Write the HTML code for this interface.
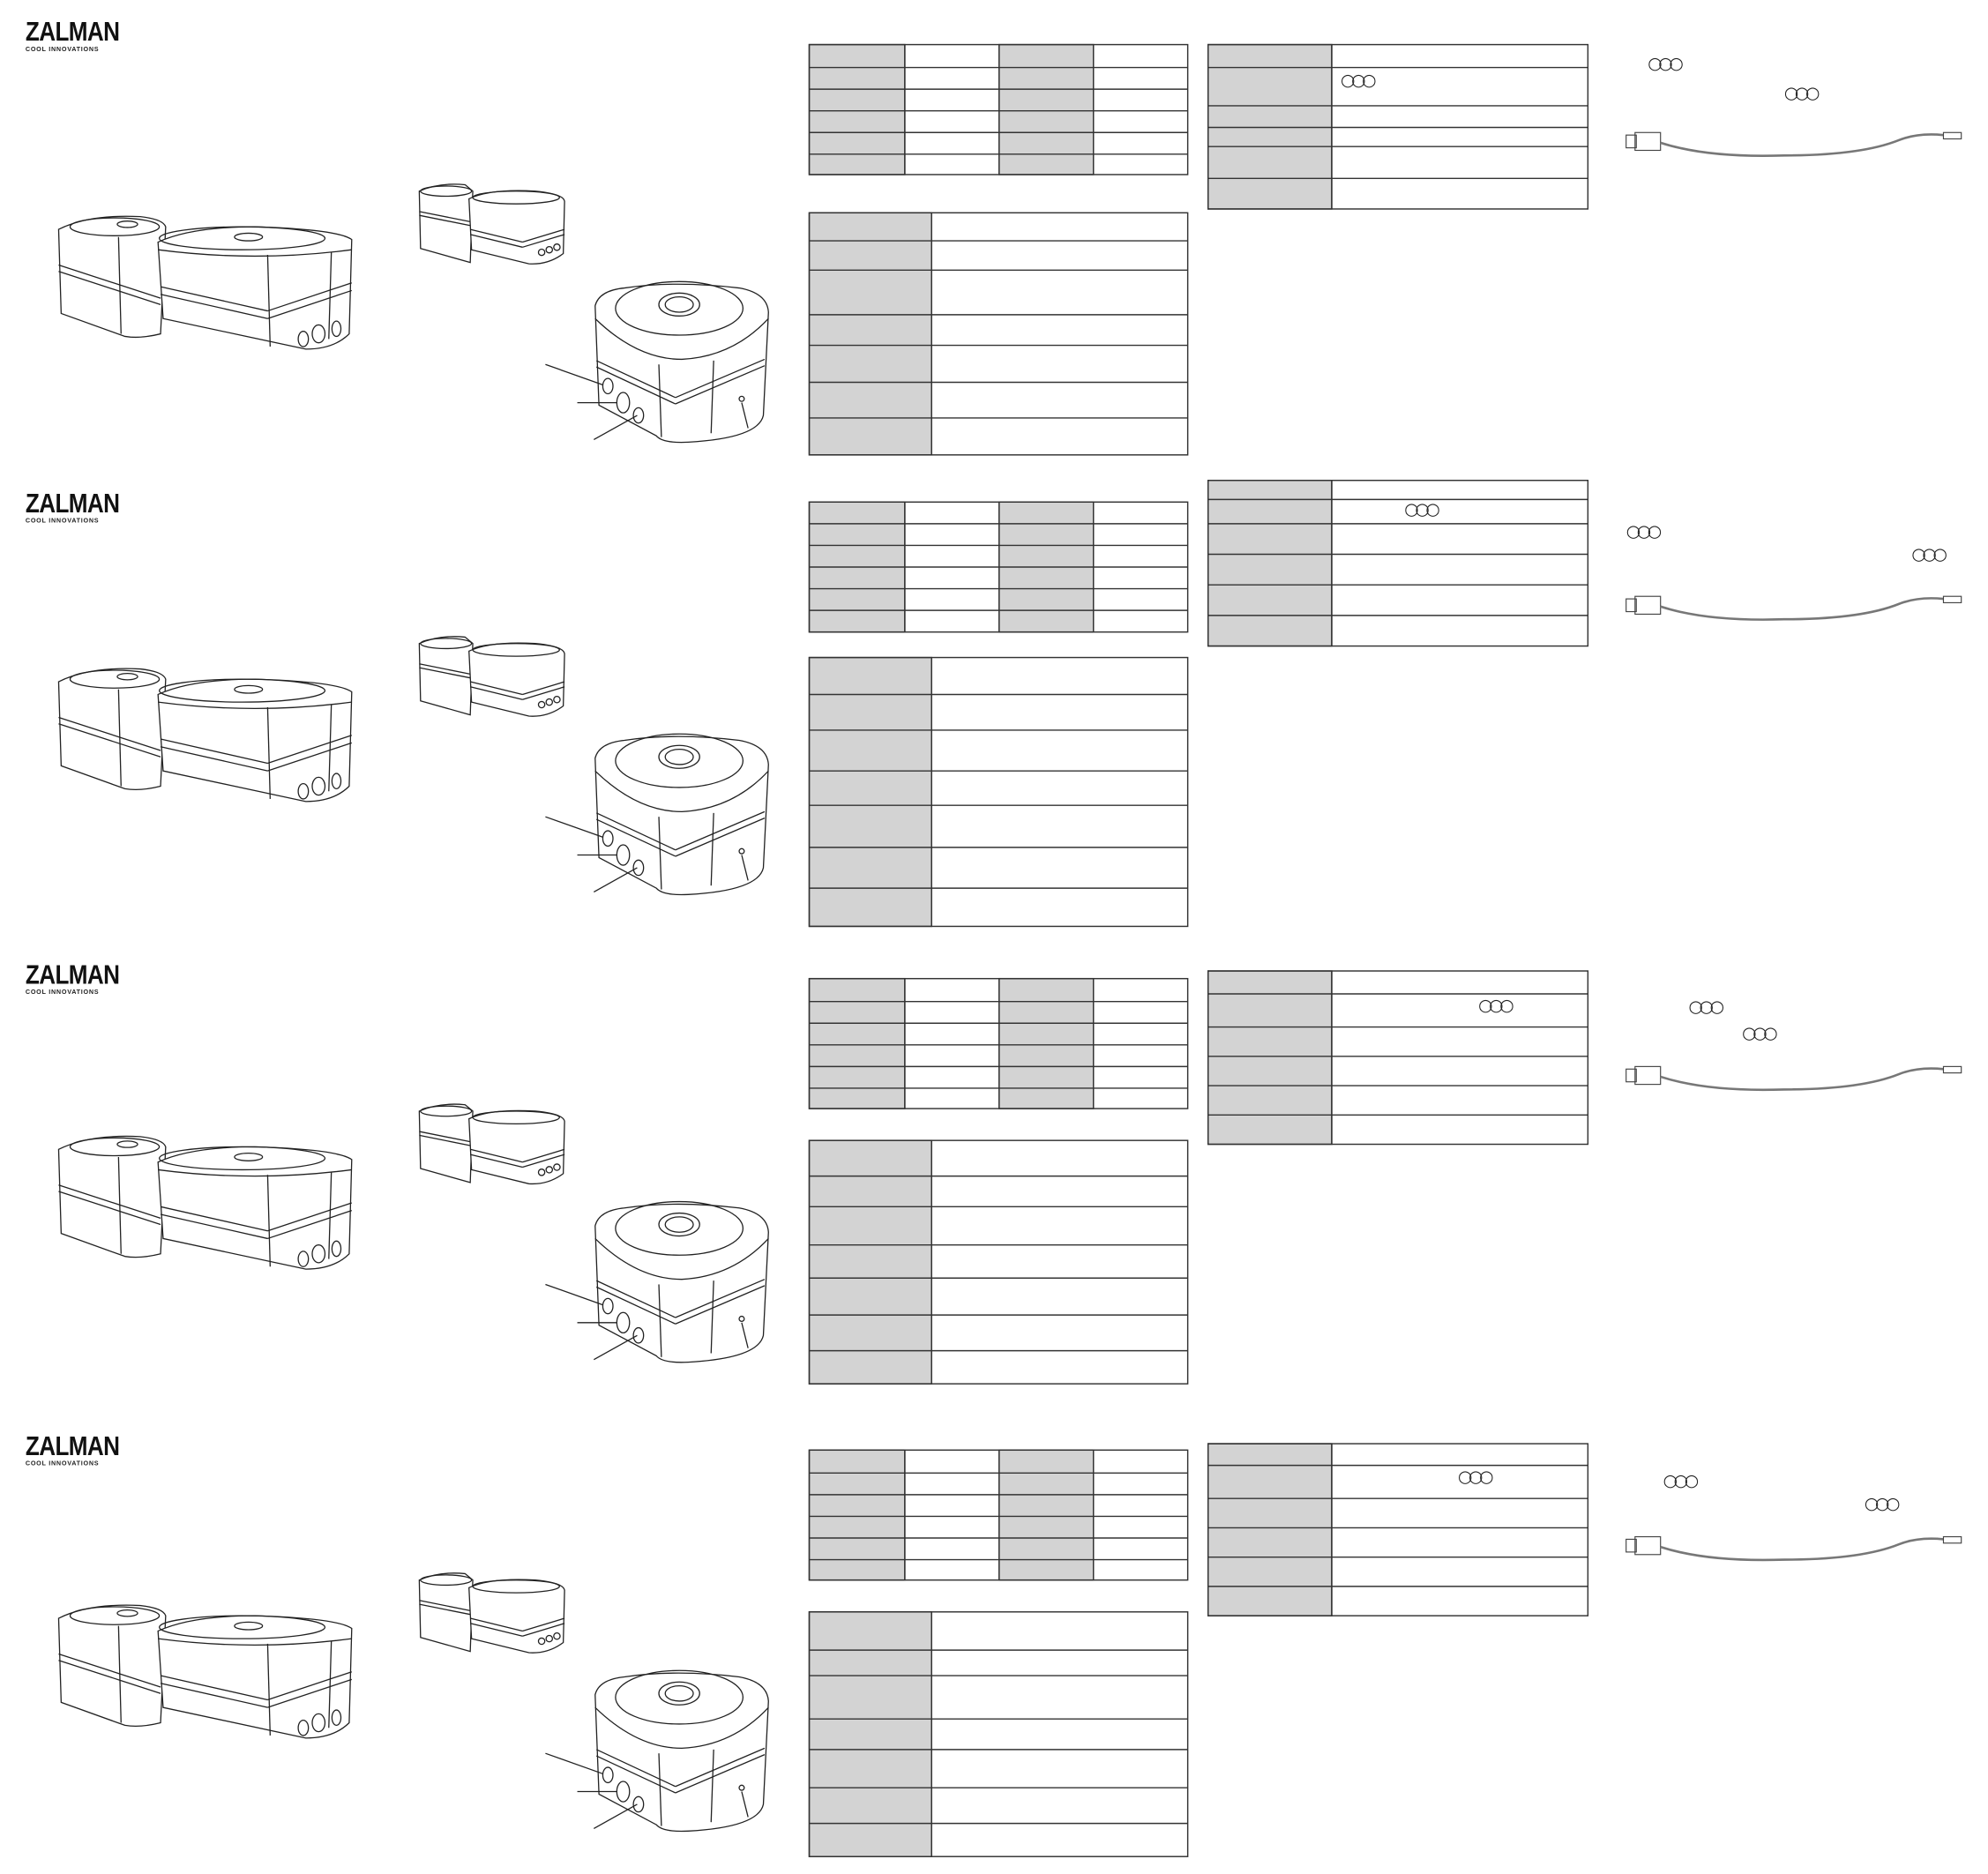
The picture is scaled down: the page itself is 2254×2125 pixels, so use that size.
<!DOCTYPE html>
<html><head><meta charset="utf-8"><style>
html,body{margin:0;padding:0;background:#fff;}
#wrap{width:2254px;height:2125px;overflow:hidden;position:relative;}
#s{position:absolute;left:0;top:0;width:1560px;height:1471px;transform:scale(1.4449);transform-origin:0 0;}
.logo{position:absolute;left:20px;font-family:"Liberation Sans",sans-serif;}
.logo b{display:block;font-size:21px;font-weight:900;line-height:18px;color:#111;transform:scaleX(0.86);transform-origin:0 0;letter-spacing:-0.5px;}
.logo i{display:block;font-style:normal;font-size:5px;font-weight:bold;letter-spacing:0.5px;color:#222;margin-top:1px;}
.c{position:absolute;font-family:"DejaVu Sans",sans-serif;font-size:13px;letter-spacing:-3px;color:#222;line-height:13px;}
</style></head><body><div id="wrap"><div id="s">
<svg width="1560" height="1471" viewBox="0 0 1560 1471" style="position:absolute;left:0;top:0">
<defs>
<g id="spk" fill="none" stroke="#222" stroke-width="0.9">
 <path d="M46,180 Q70,168 110,170 Q128,172 130,178 L126,262 Q110,266 98,264 L48,246 Z" fill="#fff"/>
 <ellipse cx="90" cy="178" rx="35" ry="7"/>
 <ellipse cx="100" cy="176" rx="8" ry="2.5"/>
 <line x1="46" y1="208" x2="126" y2="234"/><line x1="46" y1="213" x2="126" y2="239"/>
 <line x1="93" y1="186" x2="95" y2="262"/>
 <path d="M124,190 Q150,178 200,178 Q265,180 276,188 L274,262 Q262,274 240,274 L128,250 Z" fill="#fff"/>
 <ellipse cx="190" cy="187" rx="65" ry="9"/>
 <ellipse cx="195" cy="186" rx="11" ry="3"/>
 <path d="M124,196 Q200,206 276,196"/>
 <line x1="126" y1="225" x2="210" y2="244"/><line x1="126" y1="231" x2="210" y2="250"/>
 <line x1="210" y1="244" x2="276" y2="222"/><line x1="210" y1="250" x2="276" y2="228"/>
 <line x1="210" y1="200" x2="212" y2="272"/><line x1="260" y1="198" x2="258" y2="266"/>
 <ellipse cx="238" cy="266" rx="4" ry="6"/><ellipse cx="250" cy="262" rx="5" ry="7"/><ellipse cx="264" cy="258" rx="3.5" ry="6"/>
 <path d="M329,150 Q345,143 365,145 L371,150 L369,206 L330,195 Z" fill="#fff"/>
 <ellipse cx="350" cy="150" rx="20" ry="4"/>
 <line x1="329" y1="166" x2="369" y2="174"/><line x1="329" y1="169" x2="369" y2="177"/>
 <path d="M368,156 Q385,148 420,150 Q442,152 443,158 L442,199 Q430,208 415,207 L370,196 Z" fill="#fff"/>
 <ellipse cx="405" cy="155" rx="34" ry="5"/>
 <line x1="369" y1="180" x2="410" y2="190"/><line x1="369" y1="184" x2="410" y2="194"/>
 <line x1="410" y1="190" x2="443" y2="180"/><line x1="410" y1="194" x2="443" y2="184"/>
 <circle cx="425" cy="198" r="2.5"/><circle cx="431" cy="196" r="2.5"/><circle cx="437" cy="194" r="2.5"/>
 <path d="M467,240 Q470,228 490,226 Q530,220 580,226 Q602,230 603,245 L599,326 Q595,344 540,347 Q520,348 515,342 L470,318 Z" fill="#fff"/>
 <ellipse cx="533" cy="242" rx="50" ry="21"/>
 <ellipse cx="533" cy="239" rx="16" ry="9"/><ellipse cx="533" cy="239" rx="11" ry="6"/>
 <path d="M467,250 Q500,282 535,282 Q575,280 603,250"/>
 <line x1="468" y1="283" x2="530" y2="312"/><line x1="468" y1="288" x2="530" y2="317"/>
 <line x1="530" y1="312" x2="600" y2="282"/><line x1="530" y1="317" x2="600" y2="287"/>
 <line x1="517" y1="286" x2="519" y2="343"/><line x1="560" y1="283" x2="558" y2="340"/>
 <ellipse cx="477" cy="303" rx="4" ry="6"/><ellipse cx="489" cy="316" rx="5" ry="8"/><ellipse cx="501" cy="326" rx="4" ry="6"/>
 <circle cx="582" cy="313" r="2"/>
 <line x1="428" y1="286" x2="473" y2="302"/><line x1="453" y1="316" x2="484" y2="316"/>
 <line x1="466" y1="345" x2="500" y2="326"/><line x1="587" y1="336" x2="582" y2="316"/>
</g>
<g id="cable" fill="none" stroke="#444">
 <rect x="1276" y="106" width="8" height="10" stroke-width="0.8"/>
 <rect x="1283" y="104" width="20" height="14" stroke-width="0.8"/>
 <path d="M1303,112 Q1340,124 1400,122 Q1460,122 1490,110 Q1505,104 1525,106" stroke-width="1.8" stroke="#777"/>
 <rect x="1525" y="104" width="14" height="5" stroke-width="0.8"/>
</g>
</defs>
<use href="#spk"/>
<use href="#spk" y="355"/>
<use href="#spk" y="722"/>
<use href="#spk" y="1090"/>
<use href="#cable"/>
<use href="#cable" y="364"/>
<use href="#cable" y="733"/>
<use href="#cable" y="1102"/>
</svg>
<div class="logo" style="top:17px"><b>ZALMAN</b><i>COOL INNOVATIONS</i></div>
<div class="logo" style="top:387px"><b>ZALMAN</b><i>COOL INNOVATIONS</i></div>
<div class="logo" style="top:757px"><b>ZALMAN</b><i>COOL INNOVATIONS</i></div>
<div class="logo" style="top:1127px"><b>ZALMAN</b><i>COOL INNOVATIONS</i></div>
<svg width="1560" height="1471" style="position:absolute;left:0;top:0" fill="none" stroke="#333" stroke-width="1">
<g>
<rect x="635" y="35" width="75" height="102" fill="#d3d3d3"/><rect x="784" y="35" width="74" height="102" fill="#d3d3d3"/>
<rect x="635" y="35" width="297" height="102"/>
<path d="M710,35V137M784,35V137M858,35V137M635,53H932M635,70H932M635,87H932M635,104H932M635,121H932"/>
<rect x="635" y="167" width="96" height="190" fill="#d3d3d3"/><rect x="635" y="167" width="297" height="190"/>
<path d="M731,167V357M635,189H932M635,212H932M635,247H932M635,271H932M635,300H932M635,328H932"/>
<rect x="948" y="35" width="97" height="129" fill="#d3d3d3"/><rect x="948" y="35" width="298" height="129"/>
<path d="M1045,35V164M948,53H1246M948,83H1246M948,100H1246M948,115H1246M948,140H1246"/>
</g>
<g>
<rect x="635" y="394" width="75" height="102" fill="#d3d3d3"/><rect x="784" y="394" width="74" height="102" fill="#d3d3d3"/>
<rect x="635" y="394" width="297" height="102"/>
<path d="M710,394V496M784,394V496M858,394V496M635,411H932M635,428H932M635,445H932M635,462H932M635,479H932"/>
<rect x="635" y="516" width="96" height="211" fill="#d3d3d3"/><rect x="635" y="516" width="297" height="211"/>
<path d="M731,516V727M635,545H932M635,573H932M635,605H932M635,632H932M635,665H932M635,697H932"/>
<rect x="948" y="377" width="97" height="130" fill="#d3d3d3"/><rect x="948" y="377" width="298" height="130"/>
<path d="M1045,377V507M948,392H1246M948,411H1246M948,435H1246M948,459H1246M948,483H1246"/>
</g>
<g>
<rect x="635" y="768" width="75" height="102" fill="#d3d3d3"/><rect x="784" y="768" width="74" height="102" fill="#d3d3d3"/>
<rect x="635" y="768" width="297" height="102"/>
<path d="M710,768V870M784,768V870M858,768V870M635,786H932M635,803H932M635,820H932M635,837H932M635,854H932"/>
<rect x="635" y="895" width="96" height="191" fill="#d3d3d3"/><rect x="635" y="895" width="297" height="191"/>
<path d="M731,895V1086M635,923H932M635,947H932M635,977H932M635,1003H932M635,1032H932M635,1060H932"/>
<rect x="948" y="762" width="97" height="136" fill="#d3d3d3"/><rect x="948" y="762" width="298" height="136"/>
<path d="M1045,762V898M948,780H1246M948,806H1246M948,829H1246M948,852H1246M948,875H1246"/>
</g>
<g>
<rect x="635" y="1138" width="75" height="102" fill="#d3d3d3"/><rect x="784" y="1138" width="74" height="102" fill="#d3d3d3"/>
<rect x="635" y="1138" width="297" height="102"/>
<path d="M710,1138V1240M784,1138V1240M858,1138V1240M635,1156H932M635,1173H932M635,1190H932M635,1207H932M635,1224H932"/>
<rect x="635" y="1265" width="96" height="192" fill="#d3d3d3"/><rect x="635" y="1265" width="297" height="192"/>
<path d="M731,1265V1457M635,1295H932M635,1315H932M635,1349H932M635,1373H932M635,1403H932M635,1431H932"/>
<rect x="948" y="1133" width="97" height="135" fill="#d3d3d3"/><rect x="948" y="1133" width="298" height="135"/>
<path d="M1045,1133V1268M948,1150H1246M948,1176H1246M948,1199H1246M948,1222H1246M948,1245H1246"/>
</g>
</svg>
<div class="c" style="left:1052px;top:57px">○○○</div>
<div class="c" style="left:1293px;top:44px">○○○</div>
<div class="c" style="left:1400px;top:67px">○○○</div>
<div class="c" style="left:1102px;top:394px">○○○</div>
<div class="c" style="left:1276px;top:411px">○○○</div>
<div class="c" style="left:1500px;top:429px">○○○</div>
<div class="c" style="left:1160px;top:783px">○○○</div>
<div class="c" style="left:1325px;top:784px">○○○</div>
<div class="c" style="left:1367px;top:805px">○○○</div>
<div class="c" style="left:1144px;top:1153px">○○○</div>
<div class="c" style="left:1305px;top:1156px">○○○</div>
<div class="c" style="left:1463px;top:1174px">○○○</div>
</div></div></body></html>
